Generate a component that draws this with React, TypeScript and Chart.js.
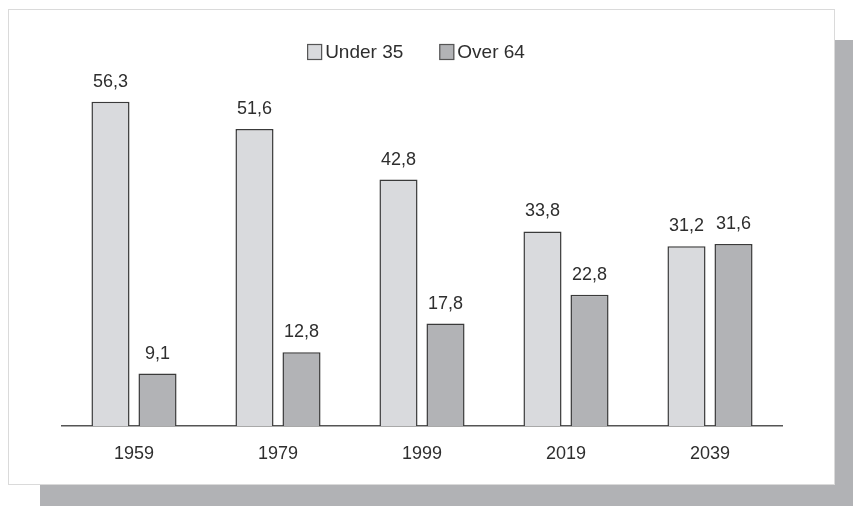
import { useEffect, useRef } from "react";
import { Chart, registerables } from "chart.js";

Chart.register(...registerables);

// Share of population by age group, per census year
const years = ["1959", "1979", "1999", "2019", "2039"];
const under35 = [56.3, 51.6, 42.8, 33.8, 31.2];
const over64 = [9.1, 12.8, 17.8, 22.8, 31.6];
const seriesNames = ["Under 35", "Over 64"];
const seriesColors = ["#d9dadd", "#b2b3b6"];

const FONT = '"Liberation Sans", Arial, Helvetica, sans-serif';
const TEXT = "#2e2e2e";
const OUTLINE = "#3a3a3a";

const fmt = (v: number) => v.toFixed(1).replace(".", ",");

// Value printed above every bar
const valueLabels = {
  id: "valueLabels",
  afterDatasetsDraw(chart: any) {
    const ctx = chart.ctx;
    ctx.save();
    ctx.font = `18px ${FONT}`;
    ctx.fillStyle = TEXT;
    ctx.textAlign = "center";
    ctx.textBaseline = "alphabetic";
    chart.data.datasets.forEach((ds: any, i: number) => {
      chart.getDatasetMeta(i).data.forEach((bar: any, j: number) => {
        ctx.fillText(fmt(ds.data[j]), bar.x, bar.y - 15);
      });
    });
    ctx.restore();
  },
};

// Compact legend: outlined square followed closely by its label
const boxLegend = {
  id: "boxLegend",
  afterDraw(chart: any) {
    const ctx = chart.ctx;
    ctx.save();
    ctx.font = `19px ${FONT}`;
    const boxW = 15;
    const boxH = 16;
    const gap = 3;
    const itemGap = 36;
    const items = chart.data.datasets.map((ds: any) => ({
      label: ds.label as string,
      color: ds.backgroundColor as string,
      w: ctx.measureText(ds.label).width,
    }));
    const total =
      items.reduce((s: number, it: any) => s + boxW + gap + it.w, 0) +
      itemGap * (items.length - 1);
    const { left, right } = chart.chartArea;
    let x = (left + right) / 2 - 6 - total / 2;
    const top = 44;
    items.forEach((it: any) => {
      ctx.fillStyle = it.color;
      ctx.fillRect(x, top, boxW, boxH);
      ctx.strokeStyle = "#555";
      ctx.lineWidth = 1.2;
      ctx.strokeRect(x + 0.5, top + 0.5, boxW - 1, boxH - 1);
      ctx.fillStyle = TEXT;
      ctx.textAlign = "left";
      ctx.textBaseline = "middle";
      ctx.fillText(it.label, x + boxW + gap, top + boxH / 2 + 1);
      x += boxW + gap + it.w + itemGap;
    });
    ctx.restore();
  },
};

export default function App() {
  const canvasRef = useRef<HTMLCanvasElement>(null);

  useEffect(() => {
    const chart = new Chart(canvasRef.current!, {
      type: "bar",
      data: {
        labels: years,
        datasets: [
          {
            label: seriesNames[0],
            data: under35,
            backgroundColor: seriesColors[0],
            borderColor: OUTLINE,
            borderWidth: 1.5,
            categoryPercentage: 0.653,
            barPercentage: 0.81,
          },
          {
            label: seriesNames[1],
            data: over64,
            backgroundColor: seriesColors[1],
            borderColor: OUTLINE,
            borderWidth: 1.5,
            categoryPercentage: 0.653,
            barPercentage: 0.81,
          },
        ],
      },
      options: {
        responsive: false,
        animation: false,
        devicePixelRatio: 1,
        layout: { padding: { left: 62, right: 71, top: 69, bottom: 0 } },
        plugins: {
          legend: { display: false },
          tooltip: { enabled: false },
        },
        scales: {
          x: {
            grid: { display: false, drawTicks: false },
            border: { display: true, color: "#555", width: 1.5 },
            ticks: {
              color: TEXT,
              font: { family: FONT, size: 18 },
              padding: 17,
            },
            afterFit: (scale: any) => {
              scale.height = 80;
            },
          },
          y: { display: false, min: 0, max: 62 },
        },
      },
      plugins: [valueLabels, boxLegend],
    });
    return () => chart.destroy();
  }, []);

  return (
    <div
      style={{
        position: "absolute",
        left: 0,
        top: 0,
        width: 853,
        height: 506,
        background: "#ffffff",
        overflow: "hidden",
      }}
    >
      <div
        style={{
          position: "absolute",
          left: 40,
          top: 40,
          width: 813,
          height: 466,
          background: "#b1b2b5",
        }}
      />
      <div
        style={{
          position: "absolute",
          left: 8,
          top: 9,
          width: 827,
          height: 476,
          background: "#ffffff",
          border: "1px solid #dadada",
          boxSizing: "border-box",
        }}
      />
      <canvas
        ref={canvasRef}
        width={853}
        height={506}
        style={{ position: "absolute", left: 0, top: 0, width: 853, height: 506 }}
      />
    </div>
  );
}
